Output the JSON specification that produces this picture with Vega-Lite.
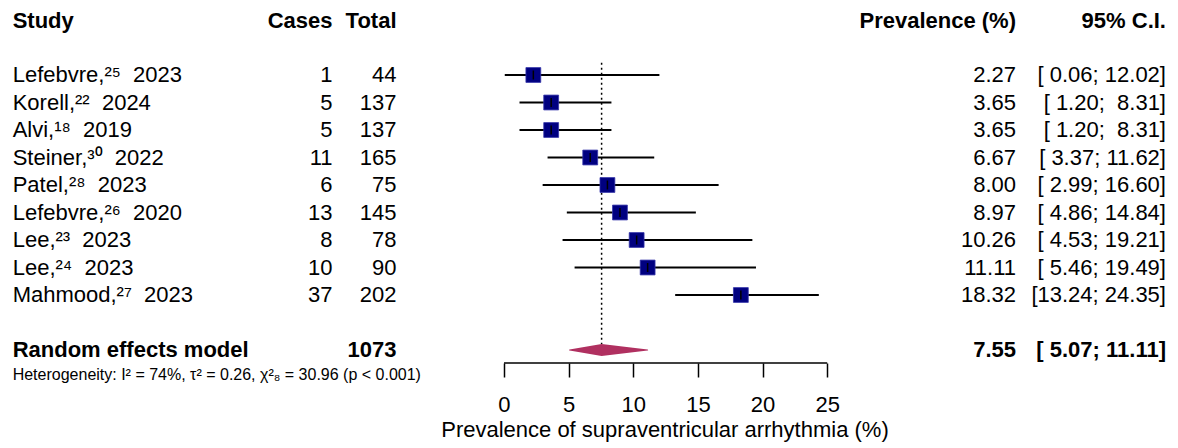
{
  "$schema": "https://vega.github.io/schema/vega-lite/v6.json",
  "width": 1178,
  "height": 448,
  "padding": 0,
  "autosize": {"type": "fit", "contains": "padding"},
  "background": "white",
  "config": {"view": {"stroke": null}, "text": {"font": "Liberation Sans", "fontSize": 22, "color": "#000", "baseline": "middle"}},
  "datasets": {
    "studies": [
      {"study": "Lefebvre,²⁵\u00a0\u00a02023", "cases": 1, "total": 44, "prev": 2.27, "lower": 0.06, "upper": 12.02, "ci": "[ 0.06; 12.02]"},
      {"study": "Korell,²²\u00a0\u00a02024", "cases": 5, "total": 137, "prev": 3.65, "lower": 1.20, "upper": 8.31, "ci": "[ 1.20;\u00a0 8.31]"},
      {"study": "Alvi,¹⁸\u00a0\u00a02019", "cases": 5, "total": 137, "prev": 3.65, "lower": 1.20, "upper": 8.31, "ci": "[ 1.20;\u00a0 8.31]"},
      {"study": "Steiner,³⁰\u00a0\u00a02022", "cases": 11, "total": 165, "prev": 6.67, "lower": 3.37, "upper": 11.62, "ci": "[ 3.37; 11.62]"},
      {"study": "Patel,²⁸\u00a0\u00a02023", "cases": 6, "total": 75, "prev": 8.00, "lower": 2.99, "upper": 16.60, "ci": "[ 2.99; 16.60]"},
      {"study": "Lefebvre,²⁶\u00a0\u00a02020", "cases": 13, "total": 145, "prev": 8.97, "lower": 4.86, "upper": 14.84, "ci": "[ 4.86; 14.84]"},
      {"study": "Lee,²³\u00a0\u00a02023", "cases": 8, "total": 78, "prev": 10.26, "lower": 4.53, "upper": 19.21, "ci": "[ 4.53; 19.21]"},
      {"study": "Lee,²⁴\u00a0\u00a02023", "cases": 10, "total": 90, "prev": 11.11, "lower": 5.46, "upper": 19.49, "ci": "[ 5.46; 19.49]"},
      {"study": "Mahmood,²⁷\u00a0\u00a02023", "cases": 37, "total": 202, "prev": 18.32, "lower": 13.24, "upper": 24.35, "ci": "[13.24; 24.35]"}
    ],
    "pooled": [
      {"model": "Random effects model", "total": 1073, "est": 7.55, "lower": 5.07, "upper": 11.11, "ci": "[ 5.07; 11.11]",
       "het": "Heterogeneity: I² = 74%, τ² = 0.26, χ²₈ = 30.96 (p < 0.001)"}
    ],
    "one": [{}]
  },
  "layer": [
    {
      "data": {"name": "one"},
      "mark": {"type": "rule", "strokeDash": [2, 3], "strokeWidth": 1.5, "color": "#000"},
      "encoding": {
        "x": {"datum": 7.55, "type": "quantitative", "scale": {"domain": [-38.98, 52.13], "nice": false, "zero": false}},
        "y": {"datum": 0.55, "type": "quantitative", "scale": {"domain": [-1.7273, 14.5636], "reverse": true, "nice": false, "zero": false}, "axis": null},
        "y2": {"datum": 10.78}
      }
    },
    {
      "data": {"name": "studies"},
      "transform": [{"window": [{"op": "row_number", "as": "rn"}]}],
      "mark": {"type": "rule", "strokeWidth": 2, "color": "#000"},
      "encoding": {
        "x": {"field": "lower", "type": "quantitative", "scale": {"domain": [-38.98, 52.13], "nice": false, "zero": false},
              "axis": {"values": [0, 5, 10, 15, 20, 25], "domain": false, "grid": false, "title": null, "offset": -85,
                       "tickSize": 14, "tickWidth": 1.5, "tickColor": "#000", "labelFont": "Liberation Sans", "labelFontSize": 22,
                       "labelColor": "#000", "labelPadding": 17, "labelFlush": false, "labelOverlap": false}},
        "x2": {"field": "upper"},
        "y": {"field": "rn", "type": "quantitative", "scale": {"domain": [-1.7273, 14.5636], "reverse": true, "nice": false, "zero": false}, "axis": null}
      }
    },
    {
      "data": {"name": "studies"},
      "transform": [{"window": [{"op": "row_number", "as": "rn"}]}],
      "mark": {"type": "point", "shape": "square", "filled": true, "size": 220, "fill": "#000080", "stroke": "#3333AA", "strokeWidth": 0.8, "opacity": 1},
      "encoding": {
        "x": {"field": "prev", "type": "quantitative", "scale": {"domain": [-38.98, 52.13], "nice": false, "zero": false}},
        "y": {"field": "rn", "type": "quantitative", "scale": {"domain": [-1.7273, 14.5636], "reverse": true, "nice": false, "zero": false}, "axis": null}
      }
    },
    {
      "data": {"name": "studies"},
      "transform": [{"window": [{"op": "row_number", "as": "rn"}]}],
      "mark": {"type": "tick", "orient": "vertical", "size": 9, "thickness": 1.5, "color": "#000", "opacity": 1},
      "encoding": {
        "x": {"field": "prev", "type": "quantitative", "scale": {"domain": [-38.98, 52.13], "nice": false, "zero": false}},
        "y": {"field": "rn", "type": "quantitative", "scale": {"domain": [-1.7273, 14.5636], "reverse": true, "nice": false, "zero": false}, "axis": null}
      }
    },
    {
      "data": {"name": "pooled"},
      "transform": [{"fold": ["lower", "est", "upper"], "as": ["pt", "value"]}],
      "mark": {"type": "trail", "color": "#B03060", "opacity": 1},
      "encoding": {
        "x": {"field": "value", "type": "quantitative", "scale": {"domain": [-38.98, 52.13], "nice": false, "zero": false}},
        "y": {"datum": 11, "type": "quantitative", "scale": {"domain": [-1.7273, 14.5636], "reverse": true, "nice": false, "zero": false}, "axis": null},
        "order": {"field": "value", "type": "quantitative"},
        "size": {"condition": {"test": "datum.pt === 'est'", "value": 12}, "value": 0}
      }
    },
    {
      "data": {"name": "one"},
      "mark": {"type": "rule", "strokeWidth": 1.5, "color": "#000"},
      "encoding": {
        "x": {"datum": 0, "type": "quantitative", "scale": {"domain": [-38.98, 52.13], "nice": false, "zero": false}},
        "x2": {"datum": 25},
        "y": {"datum": 11.473, "type": "quantitative", "scale": {"domain": [-1.7273, 14.5636], "reverse": true, "nice": false, "zero": false}, "axis": null}
      }
    },
    {
      "data": {"name": "studies"},
      "transform": [{"window": [{"op": "row_number", "as": "rn"}]}],
      "layer": [
        {"mark": {"type": "text", "align": "left"}, "encoding": {"x": {"datum": -38.0, "type": "quantitative"}, "text": {"field": "study"}}},
        {"mark": {"type": "text", "align": "right"}, "encoding": {"x": {"datum": -13.26, "type": "quantitative"}, "text": {"field": "cases"}}},
        {"mark": {"type": "text", "align": "right"}, "encoding": {"x": {"datum": -8.31, "type": "quantitative"}, "text": {"field": "total"}}},
        {"mark": {"type": "text", "align": "right"}, "encoding": {"x": {"datum": 39.6, "type": "quantitative"}, "text": {"field": "prev", "format": ".2f"}}},
        {"mark": {"type": "text", "align": "right"}, "encoding": {"x": {"datum": 51.2, "type": "quantitative"}, "text": {"field": "ci"}}}
      ],
      "encoding": {
        "y": {"field": "rn", "type": "quantitative", "scale": {"domain": [-1.7273, 14.5636], "reverse": true, "nice": false, "zero": false}, "axis": null}
      }
    },
    {
      "data": {"name": "one"},
      "layer": [
        {"mark": {"type": "text", "align": "left", "fontWeight": "bold"}, "encoding": {"x": {"datum": -38.0, "type": "quantitative"}, "text": {"value": "Study"}}},
        {"mark": {"type": "text", "align": "right", "fontWeight": "bold"}, "encoding": {"x": {"datum": -13.26, "type": "quantitative"}, "text": {"value": "Cases"}}},
        {"mark": {"type": "text", "align": "right", "fontWeight": "bold"}, "encoding": {"x": {"datum": -8.31, "type": "quantitative"}, "text": {"value": "Total"}}},
        {"mark": {"type": "text", "align": "right", "fontWeight": "bold"}, "encoding": {"x": {"datum": 39.6, "type": "quantitative"}, "text": {"value": "Prevalence (%)"}}},
        {"mark": {"type": "text", "align": "right", "fontWeight": "bold"}, "encoding": {"x": {"datum": 51.2, "type": "quantitative"}, "text": {"value": "95% C.I."}}}
      ],
      "encoding": {
        "y": {"datum": -0.95, "type": "quantitative", "scale": {"domain": [-1.7273, 14.5636], "reverse": true, "nice": false, "zero": false}, "axis": null}
      }
    },
    {
      "data": {"name": "pooled"},
      "layer": [
        {"mark": {"type": "text", "align": "left", "fontWeight": "bold"}, "encoding": {"x": {"datum": -38.0, "type": "quantitative"}, "text": {"field": "model"}}},
        {"mark": {"type": "text", "align": "right", "fontWeight": "bold"}, "encoding": {"x": {"datum": -8.31, "type": "quantitative"}, "text": {"field": "total"}}},
        {"mark": {"type": "text", "align": "right", "fontWeight": "bold"}, "encoding": {"x": {"datum": 39.6, "type": "quantitative"}, "text": {"field": "est", "format": ".2f"}}},
        {"mark": {"type": "text", "align": "right", "fontWeight": "bold"}, "encoding": {"x": {"datum": 51.2, "type": "quantitative"}, "text": {"field": "ci"}}}
      ],
      "encoding": {
        "y": {"datum": 11, "type": "quantitative", "scale": {"domain": [-1.7273, 14.5636], "reverse": true, "nice": false, "zero": false}, "axis": null}
      }
    },
    {
      "data": {"name": "pooled"},
      "mark": {"type": "text", "align": "left", "fontSize": 16},
      "encoding": {
        "x": {"datum": -38.0, "type": "quantitative"},
        "y": {"datum": 11.9, "type": "quantitative", "scale": {"domain": [-1.7273, 14.5636], "reverse": true, "nice": false, "zero": false}, "axis": null},
        "text": {"field": "het"}
      }
    },
    {
      "data": {"name": "one"},
      "mark": {"type": "text", "align": "center"},
      "encoding": {
        "x": {"datum": 12.45, "type": "quantitative"},
        "y": {"datum": 13.9, "type": "quantitative", "scale": {"domain": [-1.7273, 14.5636], "reverse": true, "nice": false, "zero": false}, "axis": null},
        "text": {"value": "Prevalence of supraventricular arrhythmia (%)"}
      }
    }
  ]
}
